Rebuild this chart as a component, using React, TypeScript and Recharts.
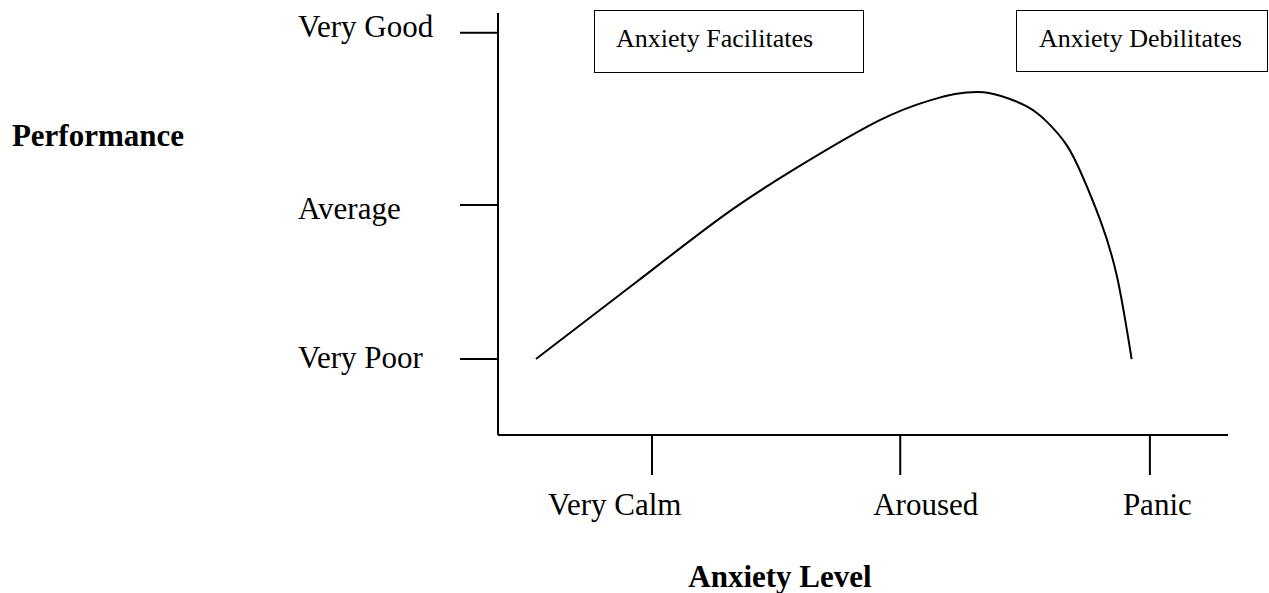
import { LineChart, Line, XAxis, YAxis } from 'recharts';

// x and y are on a 0–100 scale across the plot area
const LEVEL_TICKS = [21.1, 55.1, 89.3];
const LEVEL_LABELS = ['Very Calm', 'Aroused', 'Panic'];
const PERF_TICKS = [18.0, 54.5, 95.3];
const PERF_LABELS = ['Very Poor', 'Average', 'Very Good'];

const CURVE_X = [5.2, 19.0, 31.0, 41.0, 52.3, 59.2, 62.6, 65.8, 68.8, 72.5, 75.2, 77.9, 80.1, 82.5, 84.8, 86.8];
const CURVE_Y = [18.0, 36.3, 52.1, 63.4, 74.6, 79.3, 80.8, 81.3, 80.4, 77.8, 74.2, 68.7, 61.2, 50.9, 37.5, 18.0];

const data = CURVE_X.map((x, i) => ({ level: x, performance: CURVE_Y[i] }));

const FONT = '"Liberation Serif", "Times New Roman", serif';

// label nudges so the text sits where the original has it
const X_LABEL_DX = [-104, -27, -27];
const Y_LABEL_DY = [9, 14, 4];

function LevelTick(props: any) {
  const i = LEVEL_TICKS.indexOf(props.payload.value);
  return (
    <text x={props.x + X_LABEL_DX[i]} y={515} fontSize={31} fontFamily={FONT} fill="#000">
      {LEVEL_LABELS[i]}
    </text>
  );
}

function PerfTick(props: any) {
  const i = PERF_TICKS.indexOf(props.payload.value);
  return (
    <text x={298} y={props.y + Y_LABEL_DY[i]} fontSize={31} fontFamily={FONT} fill="#000">
      {PERF_LABELS[i]}
    </text>
  );
}

const boxStyle = {
  position: 'absolute' as const,
  border: '1.5px solid #000',
  boxSizing: 'border-box' as const,
  fontFamily: FONT,
  fontSize: 26,
  lineHeight: '30px',
  background: '#fff',
};

const titleStyle = {
  position: 'absolute' as const,
  fontFamily: FONT,
  fontWeight: 'bold' as const,
  fontSize: 31,
  lineHeight: '36px',
  whiteSpace: 'nowrap' as const,
};

export default function App() {
  return (
    <div style={{ position: 'absolute', left: 0, top: 0, width: 1269, height: 593, background: '#fff' }}>
      <LineChart
        width={1269}
        height={593}
        data={data}
        margin={{ top: 13, right: 41, bottom: 38, left: 338 }}
      >
        <XAxis
          dataKey="level"
          type="number"
          domain={[0, 100]}
          ticks={LEVEL_TICKS}
          tickSize={40}
          tick={<LevelTick />}
          height={120}
          axisLine={{ stroke: '#000', strokeWidth: 2 }}
          tickLine={{ stroke: '#000', strokeWidth: 2 }}
        />
        <YAxis
          type="number"
          domain={[0, 100]}
          ticks={PERF_TICKS}
          tickSize={38}
          tick={<PerfTick />}
          width={160}
          axisLine={{ stroke: '#000', strokeWidth: 2 }}
          tickLine={{ stroke: '#000', strokeWidth: 2 }}
        />
        <Line
          type="natural"
          dataKey="performance"
          stroke="#000"
          strokeWidth={2}
          dot={false}
          isAnimationActive={false}
        />
      </LineChart>

      <div style={{ ...boxStyle, left: 594, top: 10, width: 270, height: 63, paddingLeft: 21, paddingTop: 13 }}>
        Anxiety Facilitates
      </div>
      <div style={{ ...boxStyle, left: 1016, top: 10, width: 252, height: 62, paddingLeft: 22, paddingTop: 13 }}>
        Anxiety Debilitates
      </div>

      <div style={{ ...titleStyle, left: 0, width: 184, top: 118, textAlign: 'right' }}>
        Performance
      </div>
      <div style={{ ...titleStyle, left: 580, width: 400, top: 559, textAlign: 'center' }}>
        Anxiety Level
      </div>
    </div>
  );
}
